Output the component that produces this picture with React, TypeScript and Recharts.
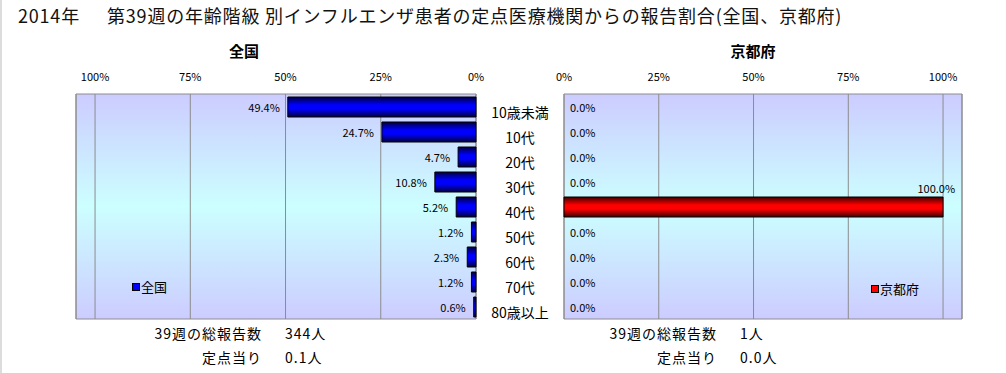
import {
  BarChart, Bar, XAxis, YAxis, CartesianGrid, ReferenceArea, LabelList, Cell,
} from "recharts";

const categories = ["10歳未満", "10代", "20代", "30代", "40代", "50代", "60代", "70代", "80歳以上"];
const nationalShare = [49.4, 24.7, 4.7, 10.8, 5.2, 1.2, 2.3, 1.2, 0.6];
const kyotoShare = [0.0, 0.0, 0.0, 0.0, 100.0, 0.0, 0.0, 0.0, 0.0];
const pctTicks = [0, 25, 50, 75, 100];

const nationalTotal = "344人";
const nationalPerSite = "0.1人";
const kyotoTotal = "1人";
const kyotoPerSite = "0.0人";

const data = categories.map((name, i) => ({ name, national: nationalShare[i], kyoto: kyotoShare[i] }));

const FONT = "'Noto Sans CJK JP', 'Noto Sans', sans-serif";
const GRID = "#8c8c8c";

function Defs({ id, dark, bright }: { id: string; dark: string; bright: string }) {
  return (
    <defs>
      <linearGradient id={`bg-${id}`} x1="0" y1="0" x2="0" y2="1">
        <stop offset="0%" stopColor="#ccccff" />
        <stop offset="50%" stopColor="#ccffff" />
        <stop offset="100%" stopColor="#ccccff" />
      </linearGradient>
      <linearGradient id={`bar-${id}`} x1="0" y1="0" x2="0" y2="1">
        <stop offset="0%" stopColor={dark} />
        <stop offset="40%" stopColor={bright} />
        <stop offset="60%" stopColor={bright} />
        <stop offset="100%" stopColor={dark} />
      </linearGradient>
    </defs>
  );
}

function LeftLabel(props: any) {
  const { x, y, width, height, value } = props;
  const left = Math.min(x, x + width);
  return (
    <text x={left - 8} y={y + height / 2} textAnchor="end" dominantBaseline="central"
      fontSize={11} fontFamily={FONT} fill="#000">
      {Number(value).toFixed(1)}%
    </text>
  );
}

function RightLabel(props: any) {
  const { x, y, height, value } = props;
  const v = Number(value);
  if (v >= 100) {
    const end = x + Number(props.width);
    return (
      <text x={end + 12} y={y - 9} textAnchor="end" dominantBaseline="central"
        fontSize={11} fontFamily={FONT} fill="#000">
        {v.toFixed(1)}%
      </text>
    );
  }
  return (
    <text x={x + 6} y={y + height / 2} textAnchor="start" dominantBaseline="central"
      fontSize={11} fontFamily={FONT} fill="#000">
      {v.toFixed(1)}%
    </text>
  );
}

function CategoryTick(props: any) {
  const { y, payload } = props;
  return (
    <text x={44} y={y + 5} textAnchor="middle" dominantBaseline="central"
      fontSize={14} fontFamily={FONT} fill="#000">
      {payload.value}
    </text>
  );
}

const tickStyle = { fontSize: 11, fill: "#000", fontFamily: FONT };

function Swatch({ color }: { color: string }) {
  return (
    <span style={{
      display: "inline-block", width: 6, height: 6, background: color,
      border: "1px solid #000", marginRight: 1, verticalAlign: "middle", position: "relative", top: -1,
    }} />
  );
}

export default function App() {
  const abs = (left: number, top: number): React.CSSProperties => ({ position: "absolute", left, top });
  const txt: React.CSSProperties = { fontFamily: FONT, fontSize: 13, color: "#000", whiteSpace: "nowrap", lineHeight: "16px" };
  const foot: React.CSSProperties = { ...txt, fontSize: 14, letterSpacing: 1 };
  const head: React.CSSProperties = { ...txt, fontSize: 18, lineHeight: "22px", letterSpacing: 0.8, color: "#111" };

  return (
    <div style={{ position: "absolute", left: 0, top: 0, width: 1006, height: 373, background: "#fff", overflow: "hidden" }}>
      <div style={{ position: "absolute", left: 0, top: 0, width: 2, height: 373, background: "#dcdcdc" }} />

      <div style={{ ...abs(18, 4), ...head }}>2014年</div>
      <div style={{ ...abs(107, 4), ...head }}>
        第39週の年齢階級 別インフルエンザ患者の定点医療機関からの報告割合(全国、京都府)
      </div>

      <div style={{ ...abs(194, 41), width: 100, textAlign: "center", ...txt, fontSize: 15, lineHeight: "20px", fontWeight: 700 }}>全国</div>
      <div style={{ ...abs(703, 41), width: 100, textAlign: "center", ...txt, fontSize: 15, lineHeight: "20px", fontWeight: 700 }}>京都府</div>

      <div style={abs(60, 60)}>
        <BarChart width={430} height={270} data={data} layout="vertical"
          margin={{ top: 0, right: 14, left: 16, bottom: 11 }} barSize={20}>
          <Defs id="l" dark="#000040" bright="#0000ff" />
          <CartesianGrid horizontal={false} stroke={GRID} fill="url(#bg-l)" fillOpacity={1} />
          <ReferenceArea x1={0} x2={105} fill="none" stroke={GRID} strokeWidth={1} />
          <XAxis type="number" domain={[0, 105]} ticks={pctTicks} reversed orientation="top"
            height={34} axisLine={false} tickLine={false} tickMargin={7}
            tickFormatter={(v) => `${v}%`} tick={tickStyle} interval={0} />
          <YAxis type="category" dataKey="name" hide />
          <Bar dataKey="national" fill="url(#bar-l)" stroke="#000" strokeWidth={1} isAnimationActive={false}>
            <LabelList dataKey="national" content={LeftLabel} />
          </Bar>
        </BarChart>
      </div>

      <div style={abs(476, 60)}>
        <BarChart width={500} height={270} data={data} layout="vertical"
          margin={{ top: 0, right: 14, left: 0, bottom: 11 }} barSize={20}>
          <Defs id="r" dark="#400000" bright="#ff0000" />
          <CartesianGrid horizontal={false} stroke={GRID} fill="url(#bg-r)" fillOpacity={1} />
          <ReferenceArea x1={0} x2={105} fill="none" stroke={GRID} strokeWidth={1} />
          <XAxis type="number" domain={[0, 105]} ticks={pctTicks} orientation="top"
            height={34} axisLine={false} tickLine={false} tickMargin={7}
            tickFormatter={(v) => `${v}%`} tick={tickStyle} interval={0} />
          <YAxis type="category" dataKey="name" width={88} axisLine={false} tickLine={false}
            tick={CategoryTick} interval={0} />
          <Bar dataKey="kyoto" fill="url(#bar-r)" stroke="#000" strokeWidth={1} minPointSize={0.5}
            isAnimationActive={false}>
            {data.map((d, i) => (
              <Cell key={`k-${i}`} stroke={d.kyoto > 0 ? "#000" : "none"} fillOpacity={d.kyoto > 0 ? 1 : 0} />
            ))}
            <LabelList dataKey="kyoto" content={RightLabel} />
          </Bar>
        </BarChart>
      </div>

      <div style={{ ...abs(132, 279), ...txt }}><Swatch color="#0000ff" />全国</div>
      <div style={{ ...abs(871, 281), ...txt }}><Swatch color="#ff0000" />京都府</div>

      <div style={{ ...abs(82, 325), width: 180, textAlign: "right", ...foot }}>39週の総報告数</div>
      <div style={{ ...abs(285, 325), ...foot }}>{nationalTotal}</div>
      <div style={{ ...abs(82, 349), width: 180, textAlign: "right", ...foot }}>定点当り</div>
      <div style={{ ...abs(285, 349), ...foot }}>{nationalPerSite}</div>

      <div style={{ ...abs(537, 325), width: 180, textAlign: "right", ...foot }}>39週の総報告数</div>
      <div style={{ ...abs(740, 325), ...foot }}>{kyotoTotal}</div>
      <div style={{ ...abs(537, 349), width: 180, textAlign: "right", ...foot }}>定点当り</div>
      <div style={{ ...abs(740, 349), ...foot }}>{kyotoPerSite}</div>
    </div>
  );
}
